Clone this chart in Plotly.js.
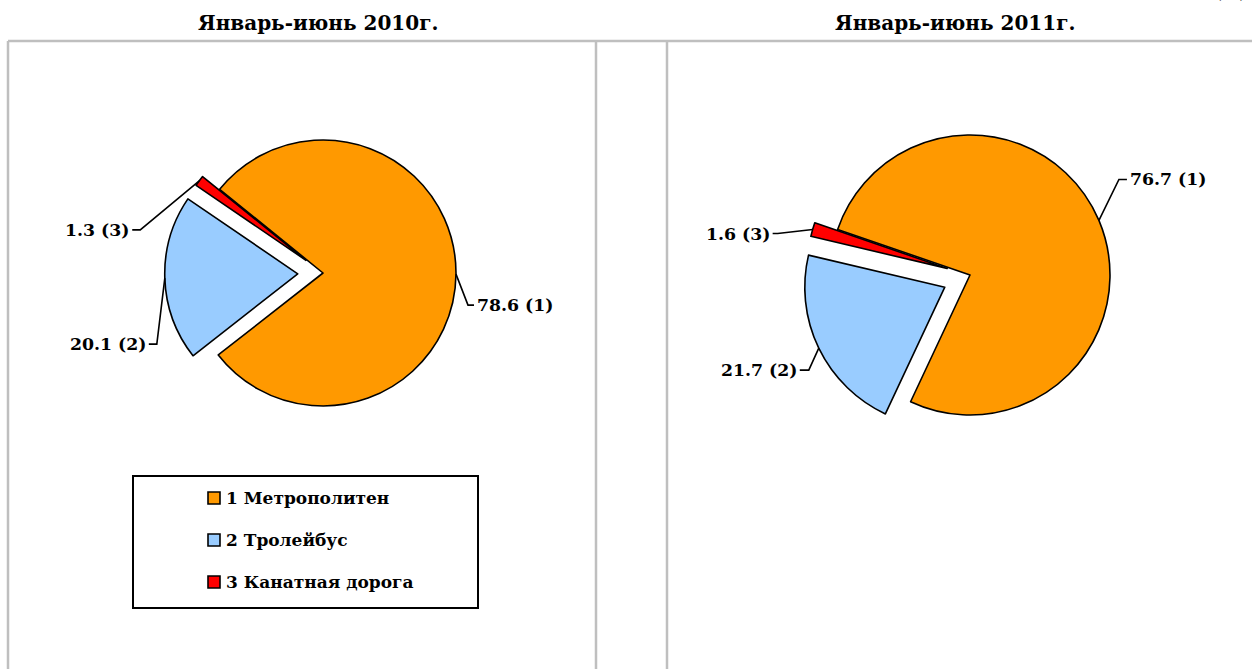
<!DOCTYPE html>
<html><head><meta charset="utf-8">
<script src="https://cdn.plot.ly/plotly-3.0.1.min.js"></script>
<style>html,body{margin:0;padding:0;background:#fff}#chart{width:1252px;height:669px}</style>
</head><body><div id="chart"></div>
<script>
// ---- data ----
const categories = ['Метрополитен', 'Тролейбус', 'Канатная дорога'];
const categoryNumbers = ['1', '2', '3'];
const values2010 = [78.6, 20.1, 1.3];
const values2011 = [76.7, 21.7, 1.6];
const chartTitles = ['Январь-июнь 2010г.', 'Январь-июнь 2011г.'];
const unitLabel = '(%)';

// ---- style ----
const colors = ['#FF9900', '#99CCFF', '#FF0000'];
const W = 1252, H = 669;
const FONT = 'DejaVu Serif, Liberation Serif, serif';
const px = x => x / W;
const py = y => 1 - y / H;
const b = t => '<b>' + t + '</b>';

const pies = [
  { values: values2010, cx: 323, cy: 273, r: 133, rotation: -51, pull: [0, 0.19, 0.16],
    elbows: [[12, 31, 6], [-8, 66, -8], [-59, 49, -8]] },
  { values: values2011, cx: 970, cy: 275, r: 140, rotation: -71, pull: [0, 0.2, 0.17],
    elbows: [[20, -41, 8], [-10, 22, -9], [-35, 4, -5]] }
];

const traces = [];
const shapes = [];
const annotations = [];

pies.forEach((p, k) => {
  const maxPull = Math.max(...p.pull);
  const box = 2 * p.r * (1 + maxPull);
  traces.push({
    type: 'pie', values: p.values, labels: categories, sort: false, direction: 'clockwise',
    rotation: p.rotation, pull: p.pull, textinfo: 'none', hoverinfo: 'none', showlegend: false,
    marker: { colors: colors, line: { color: '#000', width: 1.6 } },
    domain: { x: [px(p.cx - box / 2), px(p.cx + box / 2)], y: [py(p.cy + box / 2), py(p.cy - box / 2)] }
  });
  const total = p.values.reduce((a, c) => a + c, 0);
  let cum = 0;
  p.values.forEach((v, i) => {
    const mid = (p.rotation + (cum + v / 2) / total * 360) * Math.PI / 180;
    cum += v;
    const dx = Math.sin(mid), dy = -Math.cos(mid);
    const rr = p.r * (1 + p.pull[i]);
    const P = [p.cx + dx * rr, p.cy + dy * rr];
    const e = p.elbows[i];
    const E = [P[0] + e[0], P[1] + e[1]];
    const T = [E[0] + e[2], E[1]];
    shapes.push({ type: 'path', xref: 'paper', yref: 'paper',
      path: `M${px(P[0])},${py(P[1])} L${px(E[0])},${py(E[1])} L${px(T[0])},${py(T[1])}`,
      line: { color: '#000', width: 1.6 } });
    annotations.push({ xref: 'paper', yref: 'paper', x: px(T[0] + (e[2] > 0 ? 1 : -1)), y: py(T[1]),
      xanchor: e[2] > 0 ? 'left' : 'right', yanchor: 'middle', showarrow: false,
      text: b(v.toFixed(1) + ' (' + categoryNumbers[i] + ')'), font: { family: FONT, size: 17.3, color: '#000' } });
  });
});

// titles
[318, 955].forEach((x, k) => {
  annotations.push({ xref: 'paper', yref: 'paper', x: px(x), y: py(23), xanchor: 'center', yanchor: 'middle',
    showarrow: false, text: b(chartTitles[k]), font: { family: FONT, size: 20, color: '#000' } });
});
annotations.push({ xref: 'paper', yref: 'paper', x: px(1230), y: py(4), xanchor: 'center', yanchor: 'bottom',
  showarrow: false, text: unitLabel, font: { family: FONT, size: 18, color: '#000' } });

// frame lines
const gray = { color: '#BFBFBF', width: 2.5 };
shapes.push({ type: 'line', xref: 'paper', yref: 'paper', x0: px(8), x1: 1, y0: py(41), y1: py(41), line: gray });
[8, 596, 667].forEach(x => shapes.push({ type: 'line', xref: 'paper', yref: 'paper', x0: px(x), x1: px(x), y0: py(41), y1: 0, line: gray }));

// legend box
shapes.push({ type: 'rect', xref: 'paper', yref: 'paper', x0: px(133), x1: px(478), y0: py(608), y1: py(476),
  line: { color: '#000', width: 2 }, fillcolor: 'rgba(0,0,0,0)' });
categories.forEach((c, i) => {
  const yc = 498 + i * 42;
  shapes.push({ type: 'rect', xref: 'paper', yref: 'paper', x0: px(208), x1: px(220), y0: py(yc + 6), y1: py(yc - 6),
    line: { color: '#000', width: 1.6 }, fillcolor: colors[i] });
  annotations.push({ xref: 'paper', yref: 'paper', x: px(224), y: py(yc), xanchor: 'left', yanchor: 'middle',
    showarrow: false, text: b(categoryNumbers[i] + ' ' + c), font: { family: FONT, size: 17, color: '#000' } });
});

Plotly.newPlot('chart', traces, {
  width: W, height: H, margin: { l: 0, r: 0, t: 0, b: 0 },
  paper_bgcolor: '#fff', plot_bgcolor: '#fff', showlegend: false,
  shapes: shapes, annotations: annotations
}, { staticPlot: true });
</script></body></html>
